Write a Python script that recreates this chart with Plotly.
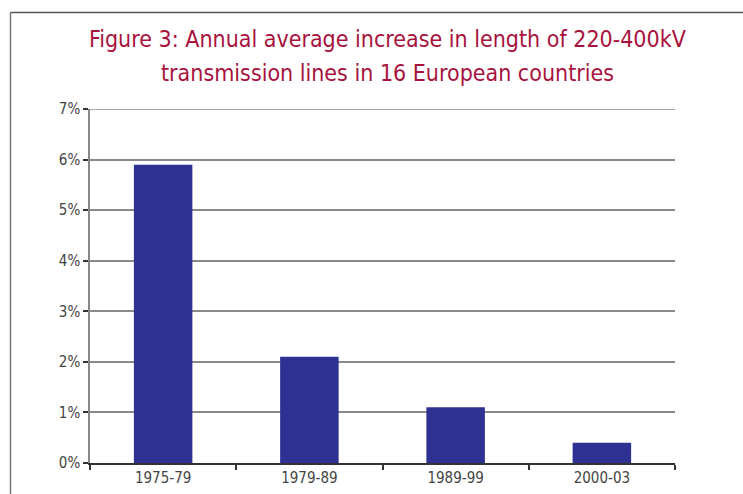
import plotly.graph_objects as go

categories = ["1975-79", "1979-89", "1989-99", "2000-03"]
values = [5.9, 2.1, 1.1, 0.4]
y_ticks = [0, 1, 2, 3, 4, 5, 6, 7]
y_tick_labels = ["0%", "1%", "2%", "3%", "4%", "5%", "6%", "7%"]
title_lines = ["Figure 3: Annual average increase in length of 220-400kV",
               "transmission lines in 16 European countries"]

W, H = 743, 494
L, R, T, B = 90, 68, 109, 31
pw, ph = W - L - R, H - T - B

def px_to_paper_x(px):
    return (px - L) / pw

def px_to_paper_y(py):
    return (H - B - py) / ph

fig = go.Figure(go.Bar(x=categories, y=values, marker=dict(color="#2E3192", line=dict(width=0)),
                       width=0.4))

tick_font = dict(family="DejaVu Sans Condensed, sans-serif", size=15, color="#444")
fig.update_layout(
    width=W, height=H,
    margin=dict(l=L, r=R, t=T, b=B),
    paper_bgcolor="white", plot_bgcolor="white",
    showlegend=False,
    xaxis=dict(type="category", automargin=False, showgrid=False, showline=True, linecolor="#333",
               linewidth=2, ticks="outside", tickson="boundaries", ticklen=5, tickcolor="#333",
               tickwidth=1.5, tickfont=tick_font),
    yaxis=dict(range=[0, 7], automargin=False, tickmode="array", tickvals=y_ticks,
               ticktext=y_tick_labels, showgrid=True, gridcolor="#8a8a8a",
               gridwidth=1.5, showline=True, linecolor="#888", linewidth=1.5, zeroline=False,
               ticks="outside", ticklen=5, tickcolor="#333", tickwidth=2, tickfont=tick_font),
)

# top gridline at the range edge (plotly omits it)
fig.add_shape(type="line", xref="paper", yref="y", x0=0, x1=1,
              y0=max(y_ticks), y1=max(y_ticks), line=dict(color="#8a8a8a", width=1.5), layer="below")

title_font = dict(family="DejaVu Sans Condensed, sans-serif", size=23, color="#A8123E")
for i, line in enumerate(title_lines):
    fig.add_annotation(text=line, xref="paper", yref="paper",
                       x=px_to_paper_x(387), y=px_to_paper_y(39 + 34 * i),
                       xanchor="center", yanchor="middle", showarrow=False, font=title_font)

# outer frame (top and left edges)
fig.add_shape(type="line", xref="paper", yref="paper",
              x0=px_to_paper_x(10.5), x1=px_to_paper_x(W + 5),
              y0=px_to_paper_y(12.5), y1=px_to_paper_y(12.5),
              line=dict(color="#555", width=1.5))
fig.add_shape(type="line", xref="paper", yref="paper",
              x0=px_to_paper_x(10.5), x1=px_to_paper_x(10.5),
              y0=px_to_paper_y(12.5), y1=px_to_paper_y(H + 5),
              line=dict(color="#777", width=1.5))

fig.write_html("out.html")
